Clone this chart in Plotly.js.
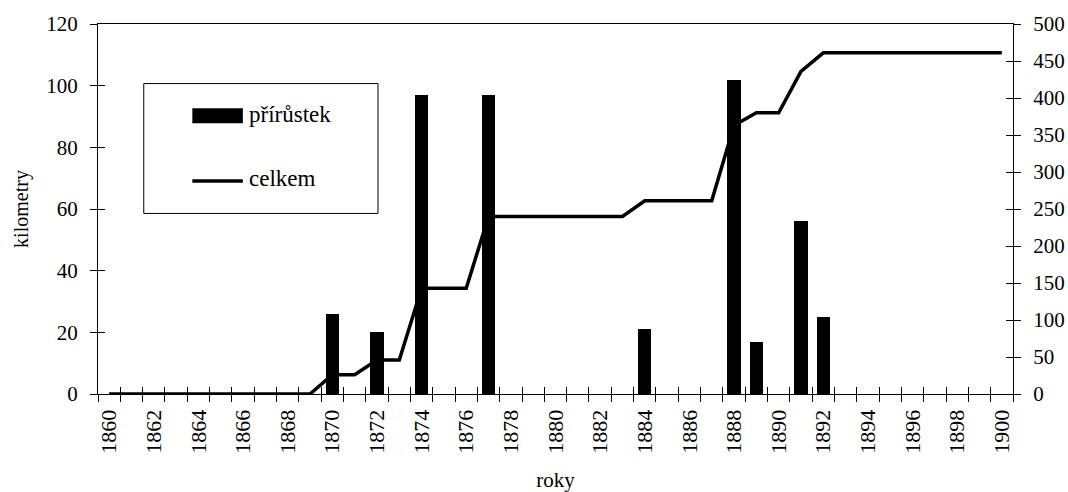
<!DOCTYPE html>
<html>
<head>
<meta charset="utf-8">
<script src="https://cdn.plot.ly/plotly-3.0.1.min.js"></script>
<style>
  html, body { margin: 0; padding: 0; background: #fff; }
  #chart { width: 1068px; height: 492px; }
</style>
</head>
<body>
<div id="chart"></div>
<script>
// Years on the horizontal axis
const roky = [1860, 1861, 1862, 1863, 1864, 1865, 1866, 1867, 1868, 1869,
              1870, 1871, 1872, 1873, 1874, 1875, 1876, 1877, 1878, 1879,
              1880, 1881, 1882, 1883, 1884, 1885, 1886, 1887, 1888, 1889,
              1890, 1891, 1892, 1893, 1894, 1895, 1896, 1897, 1898, 1899, 1900];

// Yearly increase in km (left axis)
const prirustekRoky = [1870, 1872, 1874, 1877, 1884, 1888, 1889, 1891, 1892];
const prirustek     = [26,   20,   97,   97,   21,   102,  17,   56,   25];

// Total length in km (right axis)
const celkem = [0, 0, 0, 0, 0, 0, 0, 0, 0, 0,
                26, 26, 46, 46, 143, 143, 143, 240, 240, 240,
                240, 240, 240, 240, 261, 261, 261, 261, 363, 380,
                380, 436, 461, 461, 461, 461, 461, 461, 461, 461, 461];

const nazvy = { bar: 'přírůstek', line: 'celkem' };

const FONT = 'Liberation Serif';
const FS = 21;
const xRange = [1859.5, 1900.5];

const traces = [
  {
    type: 'bar', name: nazvy.bar, x: prirustekRoky, y: prirustek,
    width: 0.6, marker: { color: '#000' }, xaxis: 'x', yaxis: 'y',
    showlegend: false
  },
  {
    type: 'scatter', mode: 'lines', name: nazvy.line, x: roky, y: celkem,
    line: { color: '#000', width: 3.5 }, xaxis: 'x', yaxis: 'y2',
    showlegend: false
  },
  // empty helpers so the inner-tick axes get drawn
  { type: 'scatter', x: [], y: [], xaxis: 'x2', yaxis: 'y', showlegend: false, hoverinfo: 'skip' },
  { type: 'scatter', x: [], y: [], xaxis: 'x', yaxis: 'y3', showlegend: false, hoverinfo: 'skip' },
  { type: 'scatter', x: [], y: [], xaxis: 'x', yaxis: 'y4', showlegend: false, hoverinfo: 'skip' }
];

const tickCommon = { tickcolor: '#000', tickwidth: 1, ticklen: 7 };

const layout = {
  width: 1068, height: 492,
  margin: { l: 97.5, r: 54.7, t: 23.5, b: 97.7 },
  paper_bgcolor: '#fff', plot_bgcolor: '#fff',
  font: { family: FONT, size: FS, color: '#000' },
  showlegend: false,
  bargap: 0,
  xaxis: {
    type: 'linear', range: xRange, fixedrange: true,
    tick0: 1860, dtick: 2, ticks: '', tickangle: -90,
    tickfont: { family: FONT, size: 22 }, ticklabelstandoff: 6,
    showgrid: false, zeroline: false,
    showline: true, linecolor: '#000', linewidth: 1, mirror: true,
    minor: { tick0: 1859.5, dtick: 1, ticks: 'outside', ticklen: 7, tickcolor: '#000', tickwidth: 1, showgrid: false },
    title: { text: 'roky', font: { family: FONT, size: FS }, standoff: 26 }
  },
  xaxis2: Object.assign({
    type: 'linear', range: xRange, overlaying: 'x', anchor: 'y', side: 'bottom',
    tick0: 1859.5, dtick: 1, ticks: 'inside', showticklabels: false,
    showgrid: false, zeroline: false, showline: false
  }, tickCommon),
  yaxis: Object.assign({
    range: [0, 120], dtick: 20, ticks: 'outside',
    tickfont: { family: FONT, size: FS }, ticklabelstandoff: 8,
    showgrid: false, zeroline: false,
    showline: true, linecolor: '#000', linewidth: 1,
    title: { text: 'kilometry', font: { family: FONT, size: 20 }, standoff: 12 }
  }, tickCommon),
  yaxis3: Object.assign({
    range: [0, 120], dtick: 20, ticks: 'inside', overlaying: 'y', side: 'left', anchor: 'x',
    showticklabels: false, showgrid: false, zeroline: false, showline: false
  }, tickCommon),
  yaxis2: Object.assign({
    range: [0, 500], dtick: 50, ticks: 'outside', overlaying: 'y', side: 'right', anchor: 'x',
    tickfont: { family: FONT, size: FS }, ticklabelstandoff: 8,
    showgrid: false, zeroline: false,
    showline: true, linecolor: '#000', linewidth: 1
  }, tickCommon),
  yaxis4: Object.assign({
    range: [0, 500], dtick: 50, ticks: 'inside', overlaying: 'y', side: 'right', anchor: 'x',
    showticklabels: false, showgrid: false, zeroline: false, showline: false
  }, tickCommon),
  shapes: [
    // legend frame
    { type: 'rect', xref: 'paper', yref: 'paper', x0: 0.050, x1: 0.306, y0: 0.488, y1: 0.839,
      line: { color: '#000', width: 1 }, fillcolor: '#fff', layer: 'below' },
    // legend swatches
    { type: 'rect', xref: 'paper', yref: 'paper', x0: 0.1031, x1: 0.1583, y0: 0.7317, y1: 0.7721,
      line: { width: 0 }, fillcolor: '#000' },
    { type: 'line', xref: 'paper', yref: 'paper', x0: 0.1031, x1: 0.1583, y0: 0.5755, y1: 0.5755,
      line: { color: '#000', width: 3.5 } }
  ],
  annotations: [
    { xref: 'paper', yref: 'paper', x: 0.163, y: 0.755, xanchor: 'left', yanchor: 'middle',
      text: nazvy.bar, showarrow: false, font: { family: FONT, size: 23, color: '#000' } },
    { xref: 'paper', yref: 'paper', x: 0.163, y: 0.582, xanchor: 'left', yanchor: 'middle',
      text: nazvy.line, showarrow: false, font: { family: FONT, size: 23, color: '#000' } }
  ]
};

Plotly.newPlot('chart', traces, layout, { staticPlot: true, displayModeBar: false });
</script>
</body>
</html>
